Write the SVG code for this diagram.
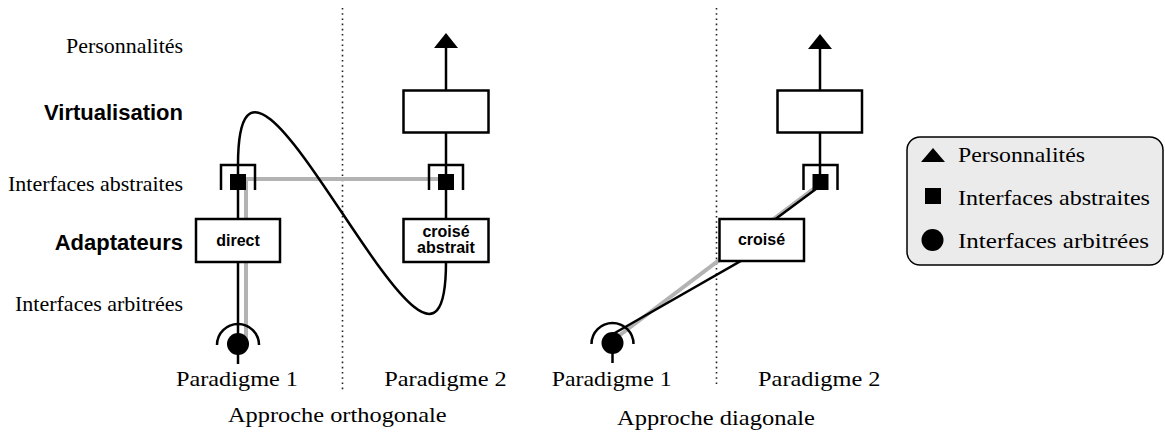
<svg xmlns="http://www.w3.org/2000/svg" xmlns:xlink="http://www.w3.org/1999/xlink" width="1165" height="439" viewBox="0 0 1165 439">
<defs>
<style>
.serif{font-family:"Liberation Serif","Times New Roman",serif;fill:#000}
.lbl{font-size:21px}
.big{font-size:22px}
.bold{font-family:"Liberation Sans",Arial,sans-serif;font-weight:bold;font-size:22px;fill:#000}
.box{fill:#fff;stroke:#000;stroke-width:2.5}
.btxt{font-family:"Liberation Sans",Arial,sans-serif;font-weight:bold;font-size:16px;text-anchor:middle;fill:#000}
.wire{fill:none;stroke:#000;stroke-width:2.5}
.gray{fill:none;stroke:#b3b3b3;stroke-width:4}
.dot{fill:none;stroke:#222;stroke-width:1.6;stroke-dasharray:1.6 3.6}
.brk{fill:none;stroke:#000;stroke-width:2.5}
.mid{text-anchor:middle}
.end{text-anchor:end}
</style>
<marker id="tri" markerUnits="userSpaceOnUse" markerWidth="15" markerHeight="24" viewBox="0 -12 15 24" refX="0" refY="0" orient="auto">
<path d="M0,-12 L15,0 L0,12 Z" fill="#000"/>
</marker>
<g id="sock">
<path d="M-21,1 A21,21 0 0 1 21,1" class="brk"/>
<circle r="11" fill="#000"/>
<line x1="0" y1="10" x2="0" y2="20" class="wire"/>
</g>
<g id="absq">
<path d="M-17,8 V-17 H17 V8" class="brk"/>
<rect x="-8" y="-8" width="16" height="16" fill="#000"/>
</g>
</defs>
<rect width="1165" height="439" fill="#fff"/>

<g id="separators">
<line x1="342.5" y1="8" x2="342.5" y2="390" class="dot"/>
<line x1="716.5" y1="8" x2="716.5" y2="384" class="dot"/>
</g>

<g id="row-labels">
<text class="serif lbl end" x="183" y="53" textLength="117" lengthAdjust="spacingAndGlyphs">Personnalités</text>
<text class="bold end" x="183" y="120">Virtualisation</text>
<text class="serif lbl end" x="183" y="191" textLength="175" lengthAdjust="spacingAndGlyphs">Interfaces abstraites</text>
<text class="bold end" x="183" y="250">Adaptateurs</text>
<text class="serif lbl end" x="183" y="311" textLength="168" lengthAdjust="spacingAndGlyphs">Interfaces arbitrées</text>
</g>

<g id="connectors">
<path class="gray" d="M446,179 H246 V340"/>
<path class="gray" d="M612,341 L816,187"/>
<path class="wire" d="M238,182 V344"/>
<path class="wire" d="M238,174 V165 C238,-50 446,475 446,262"/>
<path class="wire" d="M446,262 V48" marker-end="url(#tri)"/>
<path class="wire" d="M820,182 V49" marker-end="url(#tri)"/>
<path class="wire" d="M613,334 L760,250"/>
<path class="wire" d="M762,229 L820,186"/>
</g>

<g id="ortho-p1-socket"><use xlink:href="#sock" href="#sock" x="238" y="344"/></g>
<g id="ortho-p1-abstract"><use xlink:href="#absq" href="#absq" x="238" y="182"/></g>
<g id="ortho-direct">
<rect class="box" x="196" y="219" width="84" height="43"/>
<text class="btxt" x="238" y="246">direct</text>
</g>
<g id="ortho-p2-virt"><rect class="box" x="403.5" y="90.5" width="85" height="42"/></g>
<g id="ortho-p2-abstract"><use xlink:href="#absq" href="#absq" x="446" y="182"/></g>
<g id="ortho-croise-abstrait">
<rect class="box" x="403.5" y="219" width="85" height="43"/>
<text class="btxt" x="446" y="237">croisé</text>
<text class="btxt" x="446" y="252.5">abstrait</text>
</g>

<g id="diag-p1-socket"><use xlink:href="#sock" href="#sock" x="612.5" y="343"/></g>
<g id="diag-croise">
<rect class="box" x="719.5" y="219" width="84.5" height="42"/>
<text class="btxt" x="761.5" y="244.5">croisé</text>
</g>
<g id="diag-p2-virt"><rect class="box" x="777.5" y="90.5" width="84.5" height="42"/></g>
<g id="diag-p2-abstract"><use xlink:href="#absq" href="#absq" x="820.5" y="182"/></g>

<g id="bottom-labels">
<text class="serif big mid" x="237" y="386" textLength="122" lengthAdjust="spacingAndGlyphs">Paradigme 1</text>
<text class="serif big mid" x="445.5" y="386" textLength="122.5" lengthAdjust="spacingAndGlyphs">Paradigme 2</text>
<text class="serif big mid" x="611.7" y="386" textLength="120" lengthAdjust="spacingAndGlyphs">Paradigme 1</text>
<text class="serif big mid" x="819.3" y="386" textLength="122.5" lengthAdjust="spacingAndGlyphs">Paradigme 2</text>
<text class="serif big mid" x="337.3" y="421.5" textLength="218.7" lengthAdjust="spacingAndGlyphs">Approche orthogonale</text>
<text class="serif big mid" x="716" y="424.5" textLength="198" lengthAdjust="spacingAndGlyphs">Approche diagonale</text>
</g>

<g id="legend">
<rect x="907" y="137" width="256" height="128" rx="13" ry="13" fill="#ebebeb" stroke="#000" stroke-width="1.5"/>
<polygon points="933,148 921,162 945,162" fill="#000"/>
<text class="serif big" x="958" y="162" textLength="127" lengthAdjust="spacingAndGlyphs">Personnalités</text>
<rect x="925" y="188" width="16" height="16" fill="#000"/>
<text class="serif big" x="958" y="205" textLength="192" lengthAdjust="spacingAndGlyphs">Interfaces abstraites</text>
<circle cx="932.5" cy="240" r="11" fill="#000"/>
<text class="serif big" x="958" y="248" textLength="191" lengthAdjust="spacingAndGlyphs">Interfaces arbitrées</text>
</g>
</svg>
